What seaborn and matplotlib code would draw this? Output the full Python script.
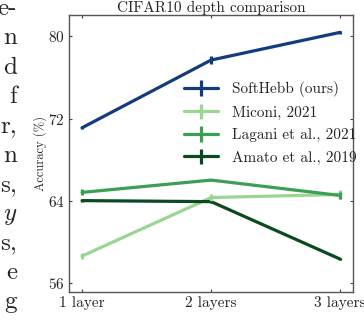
import numpy as np
import pandas as pd
import matplotlib
matplotlib.use("Agg")
import matplotlib.pyplot as plt
import seaborn as sns

# data
depths = ["1 layer", "2 layers", "3 layers"]
methods = ["SoftHebb (ours)", "Miconi, 2021", "Lagani et al., 2021", "Amato et al., 2019"]
softhebb = [71.1, 77.7, 80.4]
miconi = [58.6, 64.3, 64.6]
lagani = [64.8, 66.0, 64.5]
amato = [64.0, 63.9, 58.3]
softhebb_err = [0.15, 0.35, 0.15]
miconi_err = [0.3, 0.3, 0.4]
lagani_err = [0.3, 0.1, 0.3]
amato_err = [0.1, 0.1, 0.1]
colors = ["#123c7c", "#9ad593", "#3b9f55", "#0a4a20"]

# body text of the page cut at the left border of the crop
side_text = ["e-", "n", "d", "f", "r,", "n", "s,", "$y$", "s,", "e", "g"]

sns.set_style("ticks")
plt.rcParams["font.family"] = ["cmr10", "DejaVu Serif"]
plt.rcParams["mathtext.fontset"] = "cm"
plt.rcParams["axes.unicode_minus"] = False
plt.rcParams["axes.formatter.use_mathtext"] = True

vals = [softhebb, miconi, lagani, amato]
errs = [softhebb_err, miconi_err, lagani_err, amato_err]
rows = []
for m, v, e in zip(methods, vals, errs):
    for i, d in enumerate(depths):
        rows.append({"method": m, "pos": i, "acc": v[i], "err": e[i]})
df = pd.DataFrame(rows)

fig = plt.figure(figsize=(3.64, 3.24), dpi=100)
ax = fig.add_axes([0.19, 0.099, 0.78, 0.855])

sns.lineplot(data=df, x="pos", y="acc", hue="method", palette=colors,
             lw=2.3, legend=False, ax=ax, sort=False)
for m, c in zip(methods, colors):
    sub = df[df["method"] == m]
    ax.errorbar(sub["pos"], sub["acc"], yerr=sub["err"], fmt="none",
                ecolor=c, elinewidth=2.3)
    ax.errorbar([np.nan], [np.nan], yerr=[0.5], color=c, lw=2.3, label=m)

ax.set_xlim(-0.1, 2.1)
ax.set_ylim(55.1, 82.1)
ax.set_xticks(range(len(depths)))
ax.set_xticklabels(depths)
ax.set_yticks([56, 64, 72, 80])
ax.set_xlabel("")
ax.set_ylabel("Accuracy (%)", fontsize=9, labelpad=1)
ax.set_title("CIFAR10 depth comparison", fontsize=11, pad=2)
ax.tick_params(direction="in", length=2.5, width=0.8, labelsize=11,
               top=True, right=True, color="#444444", pad=3)
for s in ax.spines.values():
    s.set_color("#555555")
    s.set_linewidth(1.0)

ax.legend(loc="upper left", bbox_to_anchor=(0.405, 0.76), frameon=False,
          fontsize=11, borderaxespad=0, borderpad=0, handlelength=2.2,
          handletextpad=0.9, labelspacing=0.55)

for i, t in enumerate(side_text):
    fig.text(17 / 364, 1 - (15 + 29.3 * i) / 324, t, ha="right", va="baseline",
             fontsize=18)

fig.savefig("out.png", dpi=100)
